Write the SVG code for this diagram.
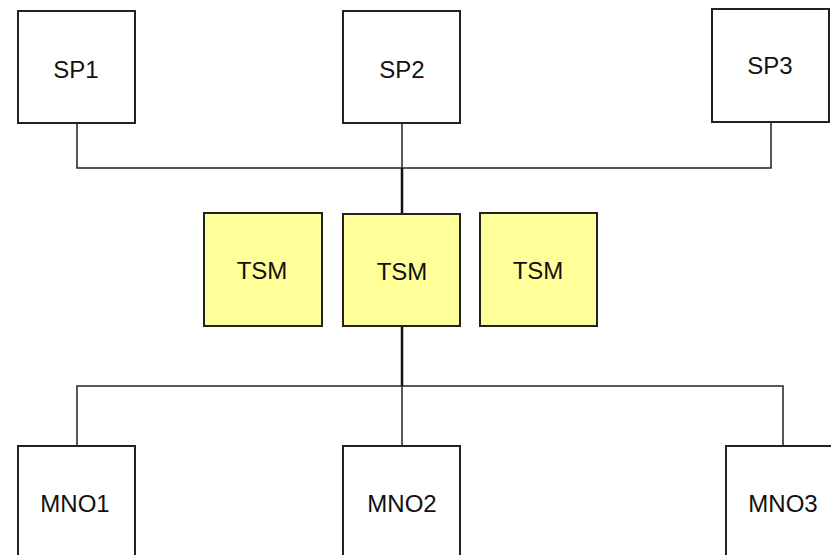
<svg xmlns="http://www.w3.org/2000/svg" width="831" height="555" viewBox="0 0 831 555">
<style>
.box{fill:#fff;stroke:#222;stroke-width:2}
.tsm{fill:#ffff99;stroke:#222;stroke-width:2}
.lbl{font-family:"Liberation Sans",Arial,sans-serif;font-size:24px;fill:#111;text-anchor:middle}
.ln{fill:none;stroke:#222;stroke-width:1.5}
.thick{fill:none;stroke:#111;stroke-width:2.5}
</style>
<rect width="831" height="555" fill="#fff"/>
<g id="connectors">
<polyline class="ln" points="77,123 77,168 771,168 771,122"/>
<line class="ln" x1="402" y1="123" x2="402" y2="168"/>
<line class="thick" x1="402" y1="168" x2="402" y2="213"/>
<line class="thick" x1="402" y1="326" x2="402" y2="386"/>
<polyline class="ln" points="77,446 77,386 783,386 783,446"/>
<line class="ln" x1="402" y1="386" x2="402" y2="446"/>
</g>
<g id="sp1"><rect class="box" x="18" y="11" width="117" height="112"/><text class="lbl" x="76" y="78">SP1</text></g>
<g id="sp2"><rect class="box" x="343" y="11" width="117" height="112"/><text class="lbl" x="402" y="78">SP2</text></g>
<g id="sp3"><rect class="box" x="712" y="9" width="117" height="113"/><text class="lbl" x="770" y="74">SP3</text></g>
<g id="tsm1"><rect class="tsm" x="204" y="213" width="118" height="113"/><text class="lbl" x="262" y="279">TSM</text></g>
<g id="tsm2"><rect class="tsm" x="343" y="214" width="117" height="112"/><text class="lbl" x="402" y="280">TSM</text></g>
<g id="tsm3"><rect class="tsm" x="480" y="213" width="117" height="113"/><text class="lbl" x="538" y="279">TSM</text></g>
<g id="mno1"><rect class="box" x="18" y="446" width="117" height="120"/><text class="lbl" x="75" y="512">MNO1</text></g>
<g id="mno2"><rect class="box" x="343" y="446" width="117" height="120"/><text class="lbl" x="402" y="512">MNO2</text></g>
<g id="mno3"><rect class="box" x="726" y="446" width="117" height="120"/><text class="lbl" x="783" y="512">MNO3</text></g>
</svg>
